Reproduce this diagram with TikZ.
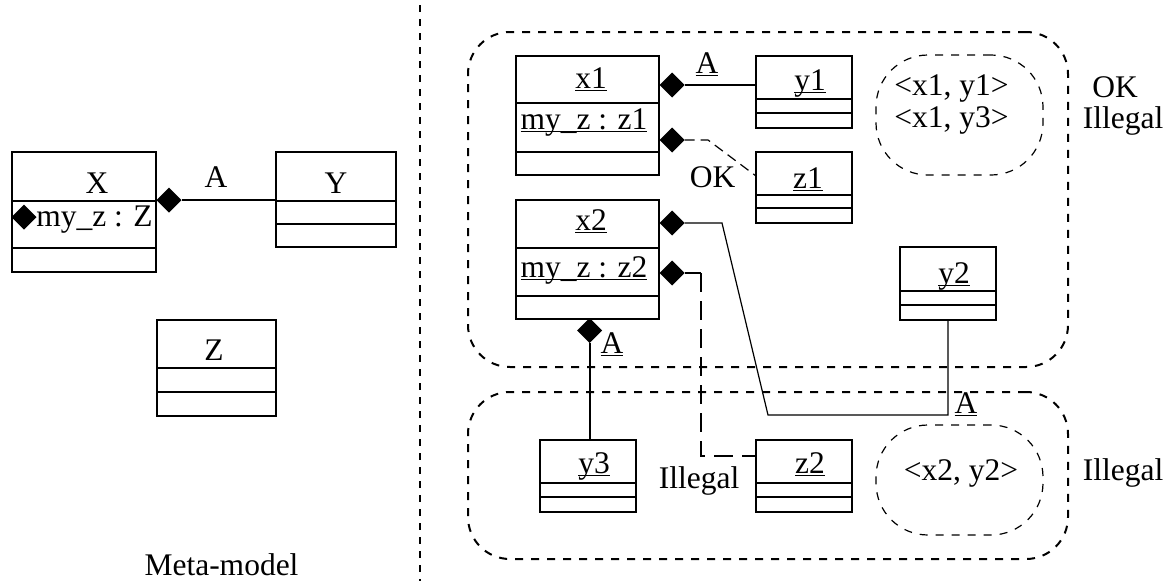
\documentclass[tikz,border=0pt]{standalone}
\usepackage{fontspec}
\setmainfont{Liberation Serif}
\usetikzlibrary{shapes.geometric}
\newcommand\undl[1]{\setbox0\hbox{#1}\rlap{\rule[-3.2pt]{\wd0}{1.6pt}}\box0}
\newcommand\clsbx[7]{%
  \node[clsbox, minimum width={(#4)-(#2)}, minimum height={(#5)-(#3)}] (#1) at (#2,#3) {};
  \draw[divline] (#2,#6) -- (#4,#6) (#2,#7) -- (#4,#7);}
\begin{document}
\begin{tikzpicture}[x=1pt,y=-1pt,
  every node/.style={font=\fontsize{31.5}{36}\selectfont, inner sep=0pt, outer sep=0pt},
  txt/.style={anchor=base},
  clsbox/.style={draw, line width=2pt, rectangle, anchor=north west},
  divline/.style={line width=2pt},
  dia/.style={diamond, fill=black, minimum width=25pt, minimum height=25pt, inner sep=0pt},
  assoc/.style={line width=2pt},
  thinline/.style={line width=1.2pt},
  thindash/.style={line width=1.2pt, dash pattern=on 10pt off 6pt},
  longdash/.style={line width=2pt, dash pattern=on 19pt off 9pt},
  region/.style={draw, line width=2pt, dash pattern=on 8pt off 8pt, rounded corners=42pt, rectangle, anchor=north west},
  inregion/.style={draw, line width=1.2pt, dash pattern=on 8pt off 8pt, rounded corners=52pt, rectangle, anchor=north west},
  divider/.style={line width=2pt, dash pattern=on 7pt off 7pt}]
\useasboundingbox (0,0) rectangle (1175,581);

% divider
\coordinate (vtop) at (420,5);
\coordinate (vbot) at (420,581);
\draw[divider] (vtop) -- (vbot);

% ---------- meta-model ----------
\clsbx{X}{12}{152}{156}{272}{201}{248}
\clsbx{Y}{276}{152}{396}{247}{201}{224}
\clsbx{Z}{157}{320}{276}{416}{368}{392}
\node[txt] (tX) at (97,193) {X};
\node[dia] (dZ) at (24,217) {};
\node[txt] (tXa) at (94.5,226) {my\_z : Z};
\node[txt] (tY) at (336,193) {Y};
\node[txt] (tZ) at (214,360) {Z};
\node[dia] (dXY) at (169,200) {};
\draw[assoc] (dXY.east) -- (dXY.east -| Y.west);
\node[txt] (lA0) at (216,187) {A};
\node[txt] (meta) at (221.5,575) {Meta-model};

% ---------- regions ----------
\node[region, minimum width=600pt, minimum height=335pt] (rtop) at (468,32) {};
\node[region, minimum width=600pt, minimum height=167pt] (rbot) at (468,392) {};
\node[inregion, minimum width=167pt, minimum height=120pt] (itop) at (876,55) {};
\node[inregion, minimum width=167pt, minimum height=110pt] (ibot) at (876,425) {};
\node[txt] (p1) at (951.5,95) {<x1, y1>};
\node[txt] (p2) at (951.5,127) {<x1, y3>};
\node[txt] (p3) at (961,480) {<x2, y2>};
\node[txt] (r1) at (1115,97) {OK};
\node[txt] (r2) at (1123,128) {Illegal};
\node[txt] (r3) at (1123,480) {Illegal};

% ---------- instances ----------
\clsbx{x1}{516}{56}{659}{175}{103}{152}
\clsbx{y1}{756}{56}{852}{128}{99}{113}
\clsbx{z1}{756}{152}{852}{223}{195}{208}
\clsbx{x2}{516}{200}{659}{319}{248}{296}
\clsbx{y2}{900}{247}{996}{320}{291}{305}
\clsbx{y3}{540}{440}{636}{512}{483}{497}
\clsbx{z2}{756}{440}{852}{512}{483}{497}
\node[txt] (tx1) at (591,88) {\undl{x1}};
\node[txt] (tx1a) at (584,129) {\undl{my\_z : z1}};
\node[txt] (ty1) at (810,90) {\undl{y1}};
\node[txt] (tz1) at (808,188) {\undl{z1}};
\node[txt] (tx2) at (591,230) {\undl{x2}};
\node[txt] (tx2a) at (584,277) {\undl{my\_z : z2}};
\node[txt] (ty2) at (954,283) {\undl{y2}};
\node[txt] (ty3) at (594,473) {\undl{y3}};
\node[txt] (tz2) at (810,473) {\undl{z2}};

% x1 -- y1
\node[dia] (d1) at (672,85) {};
\draw[assoc] (d1.east) -- (d1.east -| y1.west);
\node[txt] (lA1) at (707,73) {\undl{A}};
% x1 -- z1
\node[dia] (d2) at (672,140) {};
\coordinate (c2) at (708,140);
\coordinate (h176) at (0,176);
\draw[thindash] (d2.east) -- (c2) -- (z1.west |- h176);
\node[txt] (lOK) at (712.5,187) {OK};
% x2 -- y2
\node[dia] (d3) at (672,223) {};
\coordinate (b1) at (722,223);
\coordinate (b2) at (768,415);
\draw[thinline] (d3.east) -- (b1) -- (b2) -- (b2 -| y2.south) -- (y2.south);
\node[txt] (lA2) at (966,413) {\undl{A}};
% x2 -- z2
\node[dia] (d4) at (672,273) {};
\coordinate (b3) at (701,273);
\coordinate (b4) at (701,456);
\draw[thinline] (d4.east) -- (b3);
\draw[longdash] (b3) -- (b4) -- (b4 -| z2.west);
\node[txt] (lIl) at (699,488) {Illegal};
% x2 -- y3
\node[dia] (d5) at (589.5,330.5) {};
\draw[assoc] (d5.south) -- (d5.south |- y3.north);
\node[txt] (lA3) at (612,353) {\undl{A}};
\end{tikzpicture}
\end{document}
